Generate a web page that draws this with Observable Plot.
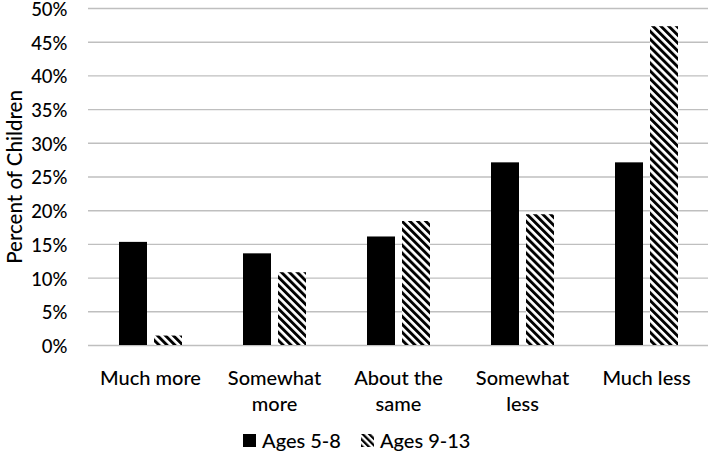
<!DOCTYPE html>
<html>
<head>
<meta charset="utf-8">
<script src="https://cdn.jsdelivr.net/npm/d3@7"></script>
<script src="https://cdn.jsdelivr.net/npm/@observablehq/plot@0.6"></script>
<style>
  html, body { margin: 0; padding: 0; background: #fff; }
  #chart { width: 709px; height: 454px; position: relative; font-family: Lato, "Noto Sans", sans-serif; font-weight: 500; }
  #legend { position: absolute; left: 243px; top: 428px; height: 24px; line-height: 24px; display: flex; align-items: center; font-size: 20px; color: #000; }
  .item { display: flex; align-items: center; margin-right: 20px; }
  .sw { width: 13px; height: 13px; margin-right: 6px; display: block; }
</style>
</head>
<body>
<div id="chart"></div>
<script>
const categories = ["Much more", "Somewhat more", "About the same", "Somewhat less", "Much less"];
const tickLabels = ["Much more", "Somewhat\nmore", "About the\nsame", "Somewhat\nless", "Much less"];
const series = ["Ages 5-8", "Ages 9-13"];
const ages5to8 = [15.3, 13.6, 16.1, 27.1, 27.1];
const ages9to13 = [1.4, 10.8, 18.4, 19.4, 47.3];
const yTicks = [0, 5, 10, 15, 20, 25, 30, 35, 40, 45, 50];
const yTitle = "Percent of Children";

const data = [];
categories.forEach((c, i) => {
  data.push({category: c, group: series[0], value: ages5to8[i]});
  data.push({category: c, group: series[1], value: ages9to13[i]});
});

const plot = Plot.plot({
  width: 709,
  height: 420,
  marginLeft: 86,
  marginRight: 0,
  marginTop: 8,
  marginBottom: 75,
  style: {fontFamily: "Lato, 'Noto Sans', sans-serif", fontSize: "20px", fontWeight: 500, color: "#000", background: "#fff"},
  fx: {domain: categories, padding: 0},
  x: {domain: series, paddingInner: 0.214, paddingOuter: 0.838, axis: null},
  y: {domain: [0, 50]},
  marks: [
    Plot.gridY({ticks: yTicks, stroke: "#bfbfbf", strokeOpacity: 1, strokeWidth: 1.4}),
    Plot.barY(data.filter(d => d.group === series[0]), {fx: "category", x: "group", y: "value", fill: "#000"}),
    Plot.barY(data.filter(d => d.group === series[1]), {fx: "category", x: "group", y: "value", fill: "url(#hatch)"}),
    Plot.axisY({ticks: yTicks, tickFormat: d => d + "%", tickSize: 0, tickPadding: 21, fontSize: 18.5, dy: 1.5,
      label: yTitle, labelAnchor: "center", labelOffset: 81, labelArrow: "none"}),
    Plot.axisFx({anchor: "bottom", tickSize: 0, tickPadding: 21.5, lineHeight: 1.3, label: null, fontSize: 20,
      tickFormat: d => tickLabels[categories.indexOf(d)]})
  ]
});

// hatch pattern definition
const ns = "http://www.w3.org/2000/svg";
const defs = document.createElementNS(ns, "defs");
defs.innerHTML = '<pattern id="hatch" patternUnits="userSpaceOnUse" width="5.6" height="5.6" patternTransform="rotate(-45)"><rect x="0" y="0" width="5.6" height="5.6" fill="#fff"/><rect x="0" y="0" width="2.9" height="5.6" fill="#000"/></pattern>';
plot.insertBefore(defs, plot.firstChild);

// enlarge the y-axis title
const yl = plot.querySelector('g[aria-label="y-axis label"]');
if (yl) { yl.setAttribute("font-size", "20.5"); yl.querySelectorAll("text").forEach(t => t.setAttribute("font-size", "20.5")); }

const chart = document.getElementById("chart");
chart.appendChild(plot);

const legend = document.createElement("div");
legend.id = "legend";
legend.innerHTML =
  '<div class="item"><div class="sw" style="background:#000"></div><span>' + series[0] + '</span></div>' +
  '<div class="item"><svg class="sw" width="13" height="13"><defs><pattern id="hatchL" patternUnits="userSpaceOnUse" width="4.6" height="4.6" patternTransform="rotate(-45)"><rect width="4.6" height="4.6" fill="#fff"/><rect width="2.3" height="4.6" fill="#000"/></pattern></defs><rect width="13" height="13" fill="url(#hatchL)"/></svg><span>' + series[1] + '</span></div>';
chart.appendChild(legend);
</script>
</body>
</html>
